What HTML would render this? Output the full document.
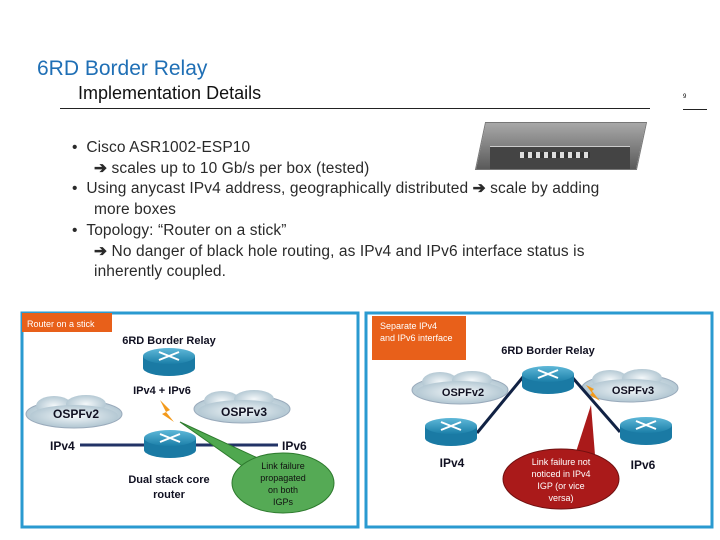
<!DOCTYPE html>
<html><head><style>
body{margin:0;width:720px;height:540px;background:#fff;font-family:"Liberation Sans",Arial,sans-serif;position:relative;overflow:hidden}
.a{position:absolute;white-space:nowrap}
b{font-weight:bold}
</style></head><body>
<div class="a" style="left:37px;top:57px;font-size:21px;color:#1f6fb5">6RD Border Relay</div>
<div class="a" style="left:78px;top:83px;font-size:18px;color:#111">Implementation Details</div>
<div style="position:absolute;left:60px;top:108px;width:590px;height:1px;background:#222"></div>
<div class="a" style="left:683px;top:94px;font-size:6px">9</div>
<div style="position:absolute;left:683px;top:109px;width:24px;height:1px;background:#222"></div>
<div style="position:absolute;left:480px;top:122px;width:160px;height:46px;background:linear-gradient(#a8a8a8,#5a5a5a);transform:skewX(-12deg);border:1px solid #777"></div>
<div style="position:absolute;left:490px;top:146px;width:140px;height:22px;background:#444;border-top:1px solid #ccc"></div>
<div style="position:absolute;left:520px;top:152px;width:70px;height:6px;background:repeating-linear-gradient(90deg,#ddd 0 4px,#333 4px 8px)"></div>
<div class="a" style="left:72px;top:138px;font-size:15.5px;line-height:20.7px;color:#2a2a2a;letter-spacing:0.1px">
• &nbsp;Cisco ASR1002-ESP10<br>
&nbsp;&nbsp;&nbsp;&nbsp;&nbsp;<b>➔</b> scales up to 10 Gb/s per box (tested)<br>
• &nbsp;Using anycast IPv4 address, geographically distributed <b>➔</b> scale by adding<br>
&nbsp;&nbsp;&nbsp;&nbsp;&nbsp;more boxes<br>
• &nbsp;Topology: “Router on a stick”<br>
&nbsp;&nbsp;&nbsp;&nbsp;&nbsp;<b>➔</b> No danger of black hole routing, as IPv4 and IPv6 interface status is<br>
&nbsp;&nbsp;&nbsp;&nbsp;&nbsp;inherently coupled.</div>
<svg width="720" height="540" style="position:absolute;left:0;top:0" font-family="Liberation Sans,Arial,sans-serif">
<defs>
<linearGradient id="r" x1="0" y1="0" x2="0" y2="1"><stop offset="0" stop-color="#5fb8d8"/><stop offset="1" stop-color="#1b7fa8"/></linearGradient>
<radialGradient id="c"><stop offset="0" stop-color="#f4f8fa"/><stop offset="1" stop-color="#b5c9d4"/></radialGradient>
<g id="rt"><path d="M0,8 v12 a26,8 0 0 0 52,0 v-12z" fill="#1a7aa4"/><ellipse cx="26" cy="8" rx="26" ry="8" fill="url(#r)"/><path d="M16,4 l20,8 M36,4 l-20,8" stroke="#fff" stroke-width="2"/></g>
<g id="cl"><ellipse cx="50" cy="20" rx="48" ry="14" fill="url(#c)" stroke="#9ab" /><ellipse cx="30" cy="12" rx="18" ry="10" fill="url(#c)"/><ellipse cx="62" cy="10" rx="20" ry="9" fill="url(#c)"/><ellipse cx="50" cy="22" rx="44" ry="11" fill="url(#c)"/></g>
</defs>
<rect x="22" y="313" width="336" height="214" fill="none" stroke="#2a9ad0" stroke-width="3"/>
<rect x="366" y="313" width="346" height="214" fill="none" stroke="#2a9ad0" stroke-width="3"/>
<rect x="22" y="313" width="90" height="19" fill="#e8601a"/>
<text x="27" y="327" font-size="9" fill="#fff">Router on a stick</text>
<text x="169" y="344" font-size="11" font-weight="bold" fill="#112" text-anchor="middle">6RD Border Relay</text>
<use href="#rt" x="143" y="348"/>
<text x="162" y="394" font-size="11" font-weight="bold" fill="#112" text-anchor="middle">IPv4 + IPv6</text>
<use href="#cl" x="24" y="394"/>
<text x="76" y="418" font-size="12" font-weight="bold" fill="#112" text-anchor="middle">OSPFv2</text>
<use href="#cl" x="192" y="389"/>
<text x="244" y="416" font-size="12" font-weight="bold" fill="#112" text-anchor="middle">OSPFv3</text>
<line x1="80" y1="445" x2="278" y2="445" stroke="#223366" stroke-width="3"/>
<text x="50" y="450" font-size="12" font-weight="bold" fill="#112">IPv4</text>
<text x="282" y="450" font-size="12" font-weight="bold" fill="#112">IPv6</text>
<use href="#rt" x="144" y="430"/>
<path d="M160,400 l10,10 l-4,2 l8,10 l-12,-8 l4,-2z" fill="#f39a1c"/>
<text x="169" y="483" font-size="11" font-weight="bold" fill="#112" text-anchor="middle">Dual stack core</text>
<text x="169" y="498" font-size="11" font-weight="bold" fill="#112" text-anchor="middle">router</text>
<path d="M180,422 L262,460 L248,470z" fill="#4fa84f" stroke="#2d7a2d"/>
<ellipse cx="283" cy="483" rx="51" ry="30" fill="#55aa55" stroke="#2d7a2d"/>
<text font-size="9" fill="#111" text-anchor="middle"><tspan x="283" y="469">Link failure</tspan><tspan x="283" y="481">propagated</tspan><tspan x="283" y="493">on both</tspan><tspan x="283" y="505">IGPs</tspan></text>
<rect x="372" y="316" width="94" height="44" fill="#e8601a"/>
<text font-size="9" fill="#fff"><tspan x="380" y="329">Separate IPv4</tspan><tspan x="380" y="341">and IPv6 interface</tspan></text>
<text x="548" y="354" font-size="11" font-weight="bold" fill="#112" text-anchor="middle">6RD Border Relay</text>
<use href="#cl" x="410" y="370"/>
<text x="463" y="396" font-size="11" font-weight="bold" fill="#112" text-anchor="middle">OSPFv2</text>
<use href="#cl" x="580" y="368"/>
<text x="633" y="394" font-size="11" font-weight="bold" fill="#112" text-anchor="middle">OSPFv3</text>
<line x1="523" y1="377" x2="477" y2="433" stroke="#112244" stroke-width="3"/>
<line x1="572" y1="377" x2="620" y2="432" stroke="#112244" stroke-width="3"/>
<use href="#rt" x="522" y="366"/>
<use href="#rt" x="425" y="418"/>
<use href="#rt" x="620" y="417"/>
<path d="M586,385 l8,4 l-2,2 l8,10 l-10,-6 l2,-2z" fill="#f39a1c"/>
<text x="452" y="467" font-size="12" font-weight="bold" fill="#112" text-anchor="middle">IPv4</text>
<text x="643" y="469" font-size="12" font-weight="bold" fill="#112" text-anchor="middle">IPv6</text>
<path d="M591,405 L575,455 L595,455z" fill="#aa1a1a"/>
<ellipse cx="561" cy="479" rx="58" ry="30" fill="#aa1a1a" stroke="#701010"/>
<text font-size="9" fill="#fff" text-anchor="middle"><tspan x="561" y="465">Link failure not</tspan><tspan x="561" y="477">noticed in IPv4</tspan><tspan x="561" y="489">IGP (or vice</tspan><tspan x="561" y="501">versa)</tspan></text>
</svg>
</body></html>
